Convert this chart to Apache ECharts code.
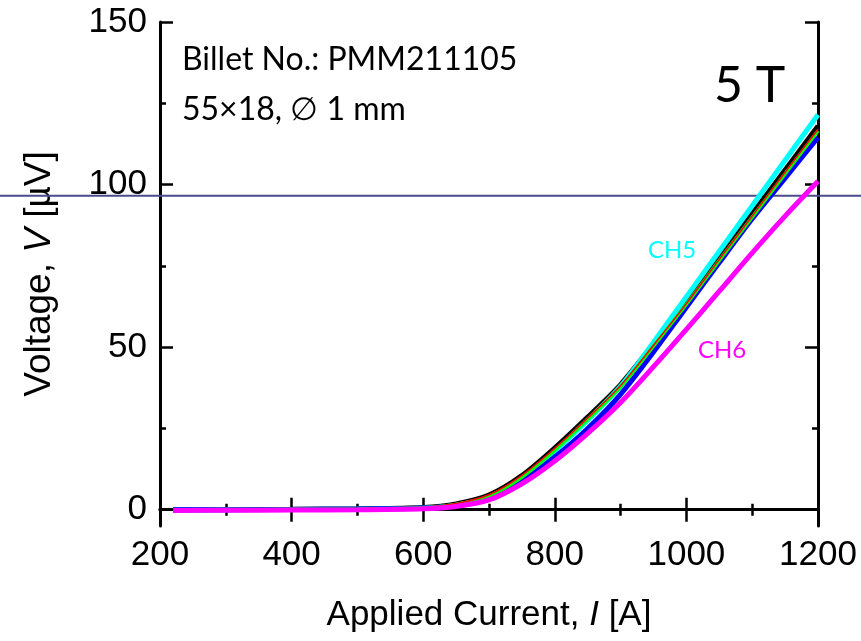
<!DOCTYPE html>
<html>
<head>
<meta charset="utf-8">
<script src="https://cdn.jsdelivr.net/npm/echarts@6/dist/echarts.min.js"></script>
<style>
html,body{margin:0;padding:0;background:#fff;}
#c{width:861px;height:641px;}
</style>
</head>
<body>
<div id="c"></div>
<script>
// ---- data ----
const currents   = [220, 300, 400, 500, 600, 650, 700, 750, 800, 850, 900, 950, 1000, 1050, 1100, 1150, 1200];
const ch1Black   = [0, 0.05, 0.15, 0.3, 0.7, 1.8, 4.5, 10.5, 19, 28.5, 38.5, 51, 64, 77.5, 91, 104.5, 118];
const ch2Red     = [0, 0.05, 0.15, 0.3, 0.7, 1.9, 4.6, 10.6, 18.9, 28.2, 38.2, 50.6, 63.4, 77, 90.3, 103.8, 117];
const ch3Green   = [0, 0.04, 0.12, 0.25, 0.6, 1.6, 4.2, 10, 18.3, 27.8, 37.8, 50.3, 63.2, 76.7, 90, 103.3, 116.5];
const ch4Blue    = [0, 0.03, 0.1, 0.2, 0.5, 1.3, 3.6, 8.7, 16.2, 25, 35.5, 48.5, 62.3, 76, 89.5, 102, 114.5];
const ch5Cyan    = [0, 0.03, 0.1, 0.2, 0.5, 1.4, 3.9, 9.6, 18, 27.5, 38, 51.5, 65.5, 79.5, 93.5, 107.5, 121.5];
const ch6Magenta = [-0.2, -0.15, -0.1, 0, 0.3, 1, 3, 8, 15, 23.5, 33, 44, 55.5, 67.2, 79, 90.3, 101];
const thresholdValue = 96.6;
const yMajorTicks = [0, 50, 100, 150];
const yMinorTicks = [25, 75, 125];
const titleLine1 = 'Billet No.: PMM211105';
const titleLine2 = '55\u00d718, \u2205 1 mm';
const fieldLabel = '5 T';

const pair = (ys) => currents.map((x, i) => [x, ys[i]]);

const chart = echarts.init(document.getElementById('c'), null, {renderer: 'canvas'});
const tickFont = 'Liberation Sans, Arial, sans-serif';
const calFont = 'Lato, Open Sans, sans-serif';

function mkLine(name, ys, color, width) {
  return {
    name, type: 'line', data: pair(ys), showSymbol: false, smooth: 0.3,
    lineStyle: {color, width}, itemStyle: {color}, xAxisIndex: 0, yAxisIndex: 0,
    z: 3
  };
}

const axisLineStyle = {show: true, lineStyle: {color: '#000', width: 3}};
const plainNum = (v) => String(v);

const option = {
  animation: false,
  backgroundColor: '#fff',
  grid: {left: 160, right: 43, top: 22, bottom: 115, containLabel: false},
  xAxis: [
    {
      type: 'value', position: 'bottom', min: 200, max: 1200, interval: 200,
      axisLine: axisLineStyle,
      axisTick: {show: true, inside: true, length: 12, lineStyle: {color: '#000', width: 2.5}},
      minorTick: {show: true, splitNumber: 2, length: 6, lineStyle: {color: '#000', width: 2.5}},
      axisLabel: {fontSize: 35, color: '#000', fontFamily: tickFont, margin: 12, formatter: plainNum},
      splitLine: {show: false},
      name: '{n|Applied Current, }{i|I}{n| [A]}',
      nameLocation: 'middle', nameGap: 72,
      nameTextStyle: {
        verticalAlign: 'top',
        rich: {
          n: {fontSize: 35, fontFamily: tickFont, color: '#000'},
          i: {fontSize: 35, fontFamily: tickFont, color: '#000', fontStyle: 'italic'}
        }
      }
    },
    {
      type: 'value', position: 'top', min: 200, max: 1200, interval: 200,
      axisLine: axisLineStyle,
      axisTick: {show: true, inside: true, length: 12, lineStyle: {color: '#000', width: 2.5}},
      minorTick: {show: true, splitNumber: 2, length: 6, lineStyle: {color: '#000', width: 2.5}},
      axisLabel: {show: false},
      splitLine: {show: false}
    }
  ],
  yAxis: [
    {
      type: 'value', position: 'left', min: -5, max: 150,
      axisLine: axisLineStyle,
      axisTick: {show: true, inside: true, length: 13, customValues: yMajorTicks, lineStyle: {color: '#000', width: 2.5}},
      axisLabel: {fontSize: 35, color: '#000', fontFamily: tickFont, margin: 13, customValues: yMajorTicks, formatter: plainNum},
      splitLine: {show: false},
      name: '{n|Voltage, }{i|V}{n| [\u00b5V]}',
      nameLocation: 'middle', nameGap: 102, nameRotate: 90,
      nameTextStyle: {
        rich: {
          n: {fontSize: 37, fontFamily: tickFont, color: '#000'},
          i: {fontSize: 37, fontFamily: tickFont, color: '#000', fontStyle: 'italic'}
        }
      }
    },
    {
      type: 'value', position: 'left', min: -5, max: 150,
      axisLine: {show: false},
      axisTick: {show: true, inside: true, length: 6, customValues: yMinorTicks, lineStyle: {color: '#000', width: 2.5}},
      axisLabel: {show: false},
      splitLine: {show: false}
    },
    {
      type: 'value', position: 'right', min: -5, max: 150,
      axisLine: axisLineStyle,
      axisTick: {show: true, inside: true, length: 13, customValues: yMajorTicks, lineStyle: {color: '#000', width: 2.5}},
      axisLabel: {show: false},
      splitLine: {show: false}
    },
    {
      type: 'value', position: 'right', min: -5, max: 150,
      axisLine: {show: false},
      axisTick: {show: true, inside: true, length: 6, customValues: yMinorTicks, lineStyle: {color: '#000', width: 2.5}},
      axisLabel: {show: false},
      splitLine: {show: false}
    }
  ],
  series: [
    mkLine('CH1', ch1Black, '#000000', 5),
    mkLine('CH5', ch5Cyan, '#00ffff', 5),
    mkLine('CH4', ch4Blue, '#0000ff', 5),
    mkLine('CH3', ch3Green, '#00ff00', 3.5),
    mkLine('CH2', ch2Red, '#ff0000', 1.5),
    mkLine('CH6', ch6Magenta, '#ff00ff', 5)
  ],
  graphic: [
    {type: 'text', left: 182, top: 44, style: {text: titleLine1, font: '32px ' + calFont, fill: '#000'}, z: 10},
    {type: 'text', left: 182, top: 94, style: {text: titleLine2, font: '32px ' + calFont, fill: '#000'}, z: 10},
    {type: 'text', left: 714, top: 61, style: {text: fieldLabel, font: '50px ' + calFont, fill: '#000'}, z: 10},
    {type: 'text', left: 648, top: 238, style: {text: 'CH5', font: '24px ' + calFont, fill: '#00ffff'}, z: 10},
    {type: 'text', left: 698, top: 338, style: {text: 'CH6', font: '24px ' + calFont, fill: '#ff00ff'}, z: 10}
  ]
};
chart.setOption(option);

const yLine = chart.convertToPixel({yAxisIndex: 0}, thresholdValue);
chart.setOption({
  graphic: [
    {type: 'line', id: 'thr', shape: {x1: 0, y1: yLine, x2: 861, y2: yLine},
     style: {stroke: '#4b4b8c', lineWidth: 2}, z: 1, silent: true}
  ]
});
</script>
</body>
</html>
